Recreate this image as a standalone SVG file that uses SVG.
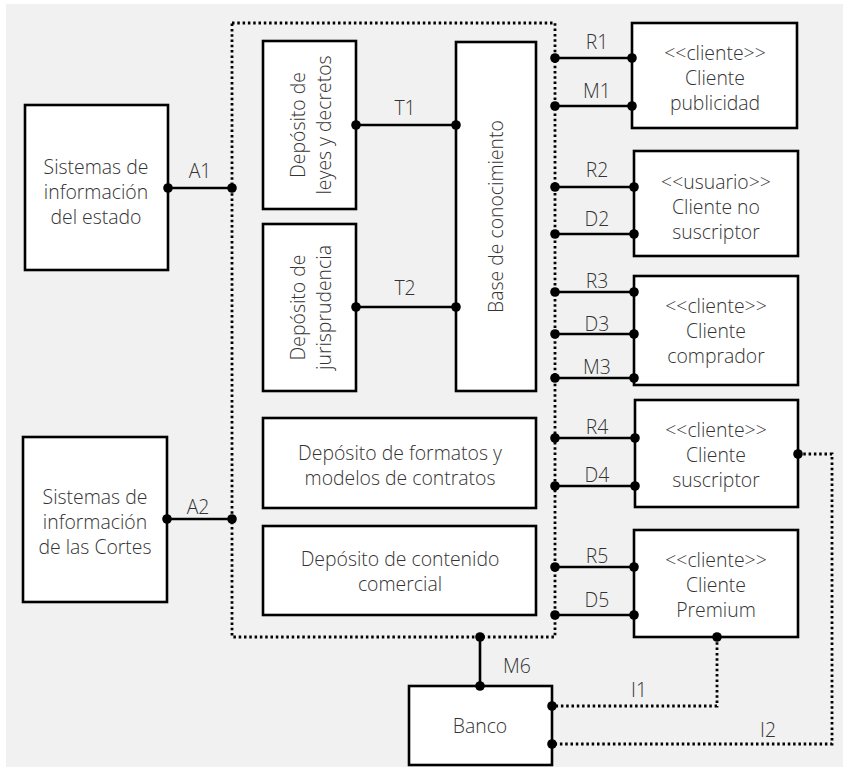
<svg xmlns="http://www.w3.org/2000/svg" width="843" height="771" viewBox="0 0 843 771">
  <style>
    .box { fill: #ffffff; stroke: #000000; stroke-width: 2.6; }
    .wire { fill: none; stroke: #000000; stroke-width: 2.6; }
    .dots { fill: none; stroke: #000000; stroke-width: 2.8; stroke-dasharray: 2.5 2.8; }
    .pin { fill: #000000; }
    text { font-family: "Open Sans", "Noto Sans", "Liberation Sans", sans-serif; font-weight: 300; font-size: 19.4px; fill: #333333; text-anchor: middle; }
  </style>

  <!-- canvas -->
  <rect x="6" y="4" width="837" height="763" fill="#f1f1f1"/>

  <!-- platform boundary -->
  <g id="platform">
    <rect class="dots" x="232" y="23" width="323" height="614" fill="#ffffff"/>
  </g>

  <!-- external systems -->
  <g id="sis-estado">
    <rect class="box" x="25" y="105" width="143" height="165"/>
    <text x="96" y="174">Sistemas de</text>
    <text x="96" y="199">información</text>
    <text x="96" y="224">del estado</text>
  </g>
  <g id="sis-cortes">
    <rect class="box" x="23" y="437" width="144" height="165"/>
    <text x="95" y="504">Sistemas de</text>
    <text x="95" y="529">información</text>
    <text x="95" y="554">de las Cortes</text>
  </g>

  <!-- inner repositories -->
  <g id="dep-leyes">
    <rect class="box" x="263" y="41" width="93" height="168"/>
    <text transform="translate(305 125) rotate(-90)">Depósito de</text>
    <text transform="translate(331 125) rotate(-90)">leyes y decretos</text>
  </g>
  <g id="dep-juris">
    <rect class="box" x="263" y="224" width="93" height="167"/>
    <text transform="translate(305 307.5) rotate(-90)">Depósito de</text>
    <text transform="translate(331 307.5) rotate(-90)">jurisprudencia</text>
  </g>
  <g id="base-conocimiento">
    <rect class="box" x="456" y="42" width="80" height="349"/>
    <text transform="translate(503 216.5) rotate(-90)">Base de conocimiento</text>
  </g>
  <g id="dep-formatos">
    <rect class="box" x="263" y="418" width="273" height="90"/>
    <text x="400" y="460">Depósito de formatos y</text>
    <text x="400" y="485">modelos de contratos</text>
  </g>
  <g id="dep-contenido">
    <rect class="box" x="263" y="526" width="273" height="89"/>
    <text x="400" y="566">Depósito de contenido</text>
    <text x="400" y="591">comercial</text>
  </g>

  <!-- clients -->
  <g id="cli-publicidad">
    <rect class="box" x="632" y="23" width="165" height="105"/>
    <text x="715" y="60">&lt;&lt;cliente&gt;&gt;</text>
    <text x="715" y="85">Cliente</text>
    <text x="715" y="110">publicidad</text>
  </g>
  <g id="cli-no-suscriptor">
    <rect class="box" x="634" y="151" width="164" height="105"/>
    <text x="716" y="189">&lt;&lt;usuario&gt;&gt;</text>
    <text x="716" y="214">Cliente no</text>
    <text x="716" y="239">suscriptor</text>
  </g>
  <g id="cli-comprador">
    <rect class="box" x="634" y="276" width="164" height="109"/>
    <text x="716" y="313">&lt;&lt;cliente&gt;&gt;</text>
    <text x="716" y="338">Cliente</text>
    <text x="716" y="363">comprador</text>
  </g>
  <g id="cli-suscriptor">
    <rect class="box" x="635" y="400" width="163" height="107"/>
    <text x="716" y="437">&lt;&lt;cliente&gt;&gt;</text>
    <text x="716" y="462">Cliente</text>
    <text x="716" y="487">suscriptor</text>
  </g>
  <g id="cli-premium">
    <rect class="box" x="634" y="530" width="164" height="107"/>
    <text x="716" y="567">&lt;&lt;cliente&gt;&gt;</text>
    <text x="716" y="592">Cliente</text>
    <text x="716" y="617">Premium</text>
  </g>

  <g id="banco">
    <rect class="box" x="409" y="686" width="143" height="79"/>
    <text x="480" y="733">Banco</text>
  </g>

  <!-- connectors -->
  <g id="connectors">
    <path class="wire" d="M168 188H232 M167 519H232 M356 125H456 M356 307H456
      M555 58H632 M555 106H632 M555 187H634 M555 234H634
      M555 292H634 M555 334H634 M555 378H634
      M555 438H635 M555 486H635 M555 567H634 M555 615H634
      M480 637V686"/>
    <path class="dots" d="M717 637V706H552 M798 454H832V744H552"/>

    <g class="pin">
      <circle cx="168" cy="188" r="4.8"/><circle cx="232" cy="188" r="4.8"/>
      <circle cx="167" cy="519" r="4.8"/><circle cx="232" cy="519" r="4.8"/>
      <circle cx="356" cy="125" r="4.8"/><circle cx="456" cy="125" r="4.8"/>
      <circle cx="356" cy="307" r="4.8"/><circle cx="456" cy="307" r="4.8"/>
      <circle cx="555" cy="58" r="4.8"/><circle cx="632" cy="58" r="4.8"/>
      <circle cx="555" cy="106" r="4.8"/><circle cx="632" cy="106" r="4.8"/>
      <circle cx="555" cy="187" r="4.8"/><circle cx="634" cy="187" r="4.8"/>
      <circle cx="555" cy="234" r="4.8"/><circle cx="634" cy="234" r="4.8"/>
      <circle cx="555" cy="292" r="4.8"/><circle cx="634" cy="292" r="4.8"/>
      <circle cx="555" cy="334" r="4.8"/><circle cx="634" cy="334" r="4.8"/>
      <circle cx="555" cy="378" r="4.8"/><circle cx="634" cy="378" r="4.8"/>
      <circle cx="555" cy="438" r="4.8"/><circle cx="635" cy="438" r="4.8"/>
      <circle cx="555" cy="486" r="4.8"/><circle cx="635" cy="486" r="4.8"/>
      <circle cx="555" cy="567" r="4.8"/><circle cx="634" cy="567" r="4.8"/>
      <circle cx="555" cy="615" r="4.8"/><circle cx="634" cy="615" r="4.8"/>
      <circle cx="480" cy="637" r="4.8"/><circle cx="480" cy="686" r="4.8"/>
      <circle cx="798" cy="454" r="4.8"/><circle cx="717" cy="637" r="4.8"/>
      <circle cx="552" cy="706" r="4.8"/><circle cx="552" cy="744" r="4.8"/>
    </g>

    <g id="connector-labels">
      <text x="200" y="178">A1</text>
      <text x="198" y="514">A2</text>
      <text x="405" y="115">T1</text>
      <text x="405" y="295">T2</text>
      <text x="597" y="49">R1</text>
      <text x="597" y="98">M1</text>
      <text x="597" y="177">R2</text>
      <text x="597" y="226">D2</text>
      <text x="597" y="288">R3</text>
      <text x="597" y="331">D3</text>
      <text x="597" y="374">M3</text>
      <text x="597" y="434">R4</text>
      <text x="597" y="482">D4</text>
      <text x="597" y="563">R5</text>
      <text x="597" y="607">D5</text>
      <text x="517" y="673">M6</text>
      <text x="639" y="697">I1</text>
      <text x="768" y="737">I2</text>
    </g>
  </g>
</svg>
